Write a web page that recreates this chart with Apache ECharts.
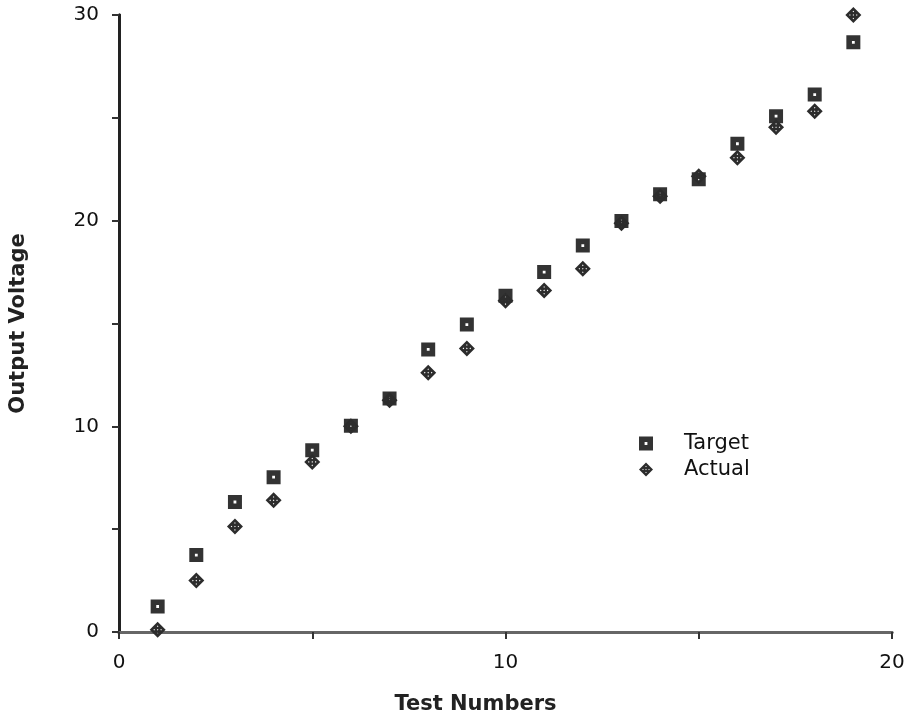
<!DOCTYPE html>
<html>
<head>
<meta charset="utf-8">
<script src="https://cdn.jsdelivr.net/npm/echarts@6/dist/echarts.min.js"></script>
<style>
  html, body { margin: 0; padding: 0; background: #fff; }
  #chart { width: 913px; height: 720px; }
</style>
</head>
<body>
<div id="chart"></div>
<script>
// Test numbers and measured voltages
var testNumbers = [1, 2, 3, 4, 5, 6, 7, 8, 9, 10, 11, 12, 13, 14, 15, 16, 17, 18, 19];
var targetVoltage = [1.24, 3.74, 6.32, 7.53, 8.84, 10.03, 11.35, 13.74, 14.95, 16.35,
                     17.5, 18.79, 19.98, 21.29, 22.01, 23.74, 25.08, 26.13, 28.67];
var actualVoltage = [0.11, 2.5, 5.13, 6.4, 8.27, 10.01, 11.27, 12.61, 13.79, 16.11,
                     16.61, 17.66, 19.88, 21.19, 22.16, 23.06, 24.54, 25.32, 30.0];
var xTicks = [0, 10, 20];
var yTicks = [0, 10, 20, 30];

var seriesNames = ['Target', 'Actual'];

// Filled square with a small hole in the middle
var squareSymbol = 'path://M0,0 L14,0 L14,14 L0,14 Z M5.6,5.6 L5.6,8.4 L8.4,8.4 L8.4,5.6 Z';
// Diamond with a checkered pattern of small holes
var diamondSymbol = 'path://M7,0 L14,7 L7,14 L0,7 Z ' +
  'M7,3.3 L6.3,4 L7,4.7 L7.7,4 Z M4,6.3 L3.3,7 L4,7.7 L4.7,7 Z M10,6.3 L9.3,7 L10,7.7 L10.7,7 Z ' +
  'M7,9.3 L6.3,10 L7,10.7 L7.7,10 Z M7,6.3 L6.3,7 L7,7.7 L7.7,7 Z';

function pairs(ys) {
  return testNumbers.map(function (x, i) { return [x, ys[i]]; });
}

var font = '"DejaVu Sans", Verdana, sans-serif';

var chart = echarts.init(document.getElementById('chart'), null, { renderer: 'canvas' });
chart.setOption({
  animation: false,
  backgroundColor: '#ffffff',
  grid: { left: 113, right: 21, top: 15, bottom: 77, containLabel: false },
  legend: {
    orient: 'vertical',
    left: 634,
    top: 428,
    itemWidth: 14,
    itemHeight: 14,
    itemGap: 5,
    textStyle: { fontFamily: font, fontSize: 21, color: '#111', padding: [0, 0, 0, 26] },
    data: [
      { name: seriesNames[0], icon: squareSymbol },
      { name: seriesNames[1], icon: diamondSymbol }
    ]
  },
  xAxis: [{
    type: 'value',
    min: 0, max: 20, interval: 10,
    name: 'Test Numbers',
    nameLocation: 'middle',
    nameGap: 62,
    nameTextStyle: { fontFamily: font, fontSize: 21, fontWeight: 'bold', color: '#222', padding: [0, 60, 0, 0] },
    axisLine: { show: true, lineStyle: { color: '#666', width: 3 } },
    axisTick: { show: true, inside: false, length: 7, lineStyle: { color: '#333', width: 2 } },
    minorTick: { show: true, splitNumber: 2, length: 7, lineStyle: { color: '#333', width: 2 } },
    axisLabel: {
      margin: 21, fontFamily: font, fontSize: 20, color: '#111',
      formatter: function (v) { return xTicks.indexOf(v) >= 0 ? String(v) : ''; }
    },
    splitLine: { show: false }
  }, {
    type: 'value', position: 'top', min: 0, max: 20,
    axisLine: { show: true, lineStyle: { color: '#666', width: 3 } },
    axisTick: { show: false }, axisLabel: { show: false }, splitLine: { show: false }
  }],
  yAxis: [{
    type: 'value',
    min: 0, max: 30, interval: 10,
    name: 'Output Voltage',
    nameLocation: 'middle',
    nameGap: 80,
    nameRotate: 90,
    nameTextStyle: { fontFamily: font, fontSize: 21, fontWeight: 'bold', color: '#222', padding: [0, 0, 10, 0] },
    axisLine: { show: true, lineStyle: { color: '#111', width: 3 } },
    axisTick: { show: true, inside: false, length: 7, lineStyle: { color: '#333', width: 2 } },
    minorTick: { show: true, splitNumber: 2, length: 7, lineStyle: { color: '#333', width: 2 } },
    axisLabel: {
      margin: 20, fontFamily: font, fontSize: 20, color: '#111',
      formatter: function (v) { return yTicks.indexOf(v) >= 0 ? String(v) : ''; }
    },
    splitLine: { show: false }
  }, {
    type: 'value', position: 'right', min: 0, max: 30,
    axisLine: { show: true, lineStyle: { color: '#222', width: 3 } },
    axisTick: { show: false }, axisLabel: { show: false }, splitLine: { show: false }
  }],
  series: [{
    name: seriesNames[0],
    type: 'scatter',
    symbol: squareSymbol,
    symbolSize: 14,
    itemStyle: { color: '#333', opacity: 1 },
    data: pairs(targetVoltage),
    z: 3
  }, {
    name: seriesNames[1],
    type: 'scatter',
    symbol: diamondSymbol,
    symbolSize: 16,
    itemStyle: { color: '#2c2c2c', opacity: 1 },
    data: pairs(actualVoltage),
    z: 4
  }]
});
</script>
</body>
</html>
